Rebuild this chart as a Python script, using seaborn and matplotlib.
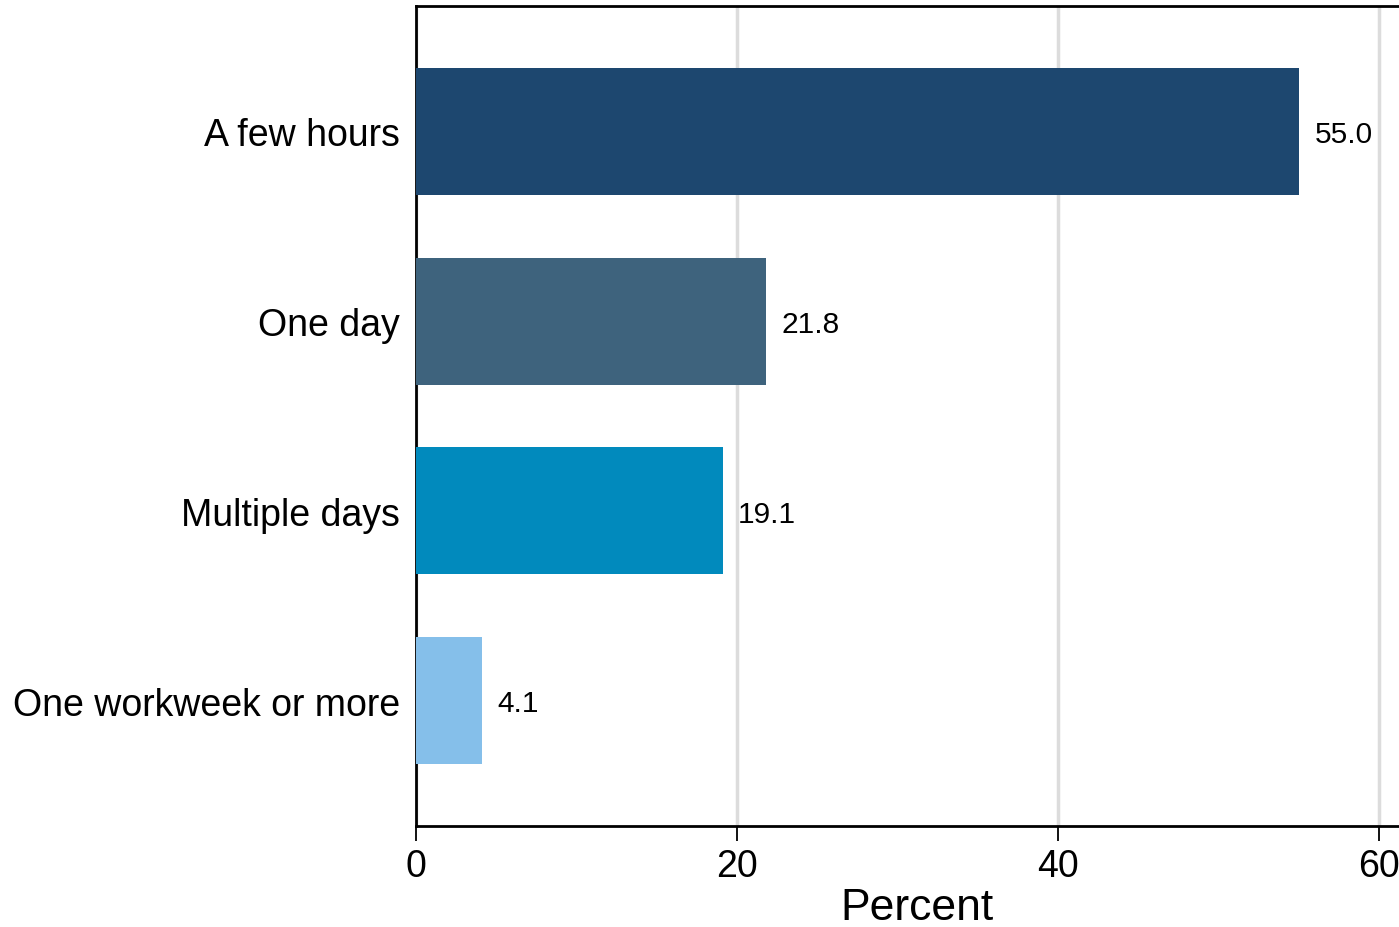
import pandas as pd
import matplotlib.pyplot as plt
import seaborn as sns

# Данные графика
categories = ['A few hours', 'One day', 'Multiple days', 'One workweek or more']
percents = [55.0, 21.8, 19.1, 4.1]
bar_colors = ['#1D476F', '#3E637D', '#018ABD', '#85BFEA']
x_ticks = [0, 20, 40, 60]

sns.set_style('white')
plt.rcParams['font.family'] = ['Liberation Sans', 'DejaVu Sans']
plt.rcParams['text.color'] = 'black'
plt.rcParams['axes.labelcolor'] = 'black'
plt.rcParams['xtick.color'] = 'black'
plt.rcParams['ytick.color'] = 'black'

df = pd.DataFrame({'category': categories, 'percent': percents})

fig = plt.figure(figsize=(13.99, 9.28), dpi=100)
ax = fig.add_axes([416 / 1399, 101 / 928, (1418 - 416) / 1399, 820 / 928])

sns.barplot(data=df, y='category', x='percent', hue='category',
            palette=bar_colors, order=categories, hue_order=categories,
            width=0.67, saturation=1, legend=False, ax=ax, zorder=3,
            linewidth=0)

# подписи значений справа от столбцов, чуть ниже центра
for container in ax.containers:
    labels = ax.bar_label(container, fmt='%.1f', padding=11, fontsize=21.5, color='black')
    for lbl in labels:
        lbl.xyann = (11, -2)

ax.set_xlim(0, 62.4)
ax.set_ylim(3.66, -0.66)
ax.set_xticks(x_ticks)
ax.set_xticklabels([str(t) for t in x_ticks])
ax.grid(axis='x', color='#dcdcdc', linewidth=2.5, zorder=0)
ax.grid(axis='y', visible=False)
ax.set_axisbelow(True)

for side in ['left', 'top', 'bottom']:
    ax.spines[side].set_visible(True)
    ax.spines[side].set_color('black')
    ax.spines[side].set_linewidth(2)
ax.spines['right'].set_visible(False)

ax.tick_params(axis='x', bottom=True, direction='out', length=11, width=1.3,
               labelsize=27, pad=5, color='black', labelcolor='black')
ax.tick_params(axis='y', left=False, length=0, labelsize=27, pad=11.5,
               labelcolor='black')
ax.set_ylabel('')
ax.set_xlabel('Percent', fontsize=32, labelpad=2, color='black')

fig.savefig('out.png', dpi=100)
